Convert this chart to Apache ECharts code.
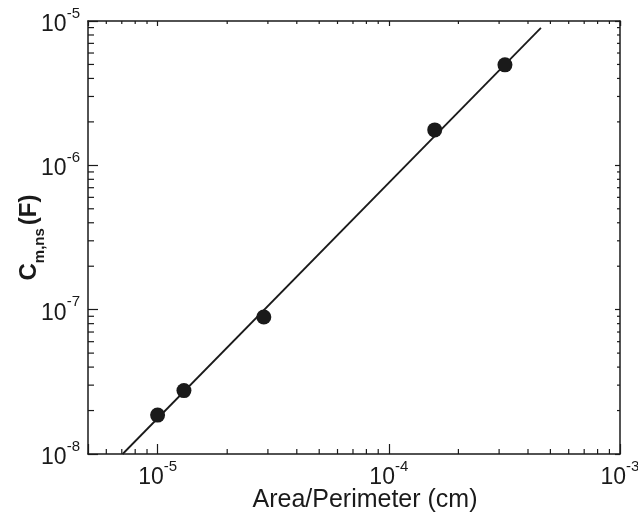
<!DOCTYPE html>
<html>
<head>
<meta charset="utf-8">
<script src="https://cdn.jsdelivr.net/npm/echarts@6/dist/echarts.min.js"></script>
<style>
  html, body { margin: 0; padding: 0; background: #fff; }
  #chart { width: 638px; height: 517px; }
</style>
</head>
<body>
<div id="chart"></div>
<script>
// Measured non-specific capacitance versus area/perimeter ratio
const areaPerimeter = [1.0e-5, 1.3e-5, 2.88e-5, 1.58e-4, 3.18e-4];
const capacitance   = [1.86e-8, 2.75e-8, 8.9e-8, 1.76e-6, 4.97e-6];

// Power-law fit drawn as a straight line in log-log space
const fitX = [7.06e-6, 4.55e-4];
const fitY = [1.0e-8, 8.95e-6];

// Axis ranges
const xRange = [5e-6, 1e-3];
const yRange = [1e-8, 1e-5];

// Minor tick values (2..9 within each decade)
const xMinorTicks = [6e-6, 7e-6, 8e-6, 9e-6,
  2e-5, 3e-5, 4e-5, 5e-5, 6e-5, 7e-5, 8e-5, 9e-5,
  2e-4, 3e-4, 4e-4, 5e-4, 6e-4, 7e-4, 8e-4, 9e-4];
const yMinorTicks = [2e-8, 3e-8, 4e-8, 5e-8, 6e-8, 7e-8, 8e-8, 9e-8,
  2e-7, 3e-7, 4e-7, 5e-7, 6e-7, 7e-7, 8e-7, 9e-7,
  2e-6, 3e-6, 4e-6, 5e-6, 6e-6, 7e-6, 8e-6, 9e-6];

const FONT = '"Liberation Sans", Arial, Helvetica, sans-serif';

function decadeLabel(v) {
  const lg = Math.log10(v);
  const e = Math.round(lg);
  if (Math.abs(lg - e) > 1e-6) return '';
  return '{b|10}{s|' + e + '}';
}

const labelRich = {
  b: { fontSize: 23, fontFamily: FONT, color: '#1a1a1a', lineHeight: 30, verticalAlign: 'bottom' },
  s: { fontSize: 15, fontFamily: FONT, color: '#1a1a1a', lineHeight: 30, verticalAlign: 'top' }
};

const chart = echarts.init(document.getElementById('chart'));

function tickLines(params, api) {
  const children = [];
  const lineStyle = { stroke: '#1a1a1a', lineWidth: 1.2 };
  xMinorTicks.forEach(function (v) {
    const b = api.coord([v, yRange[0]]);
    const t = api.coord([v, yRange[1]]);
    children.push({ type: 'line', shape: { x1: b[0], y1: b[1], x2: b[0], y2: b[1] - 5 }, style: lineStyle });
    children.push({ type: 'line', shape: { x1: t[0], y1: t[1], x2: t[0], y2: t[1] + 3 }, style: lineStyle });
  });
  yMinorTicks.forEach(function (v) {
    const l = api.coord([xRange[0], v]);
    const r = api.coord([xRange[1], v]);
    children.push({ type: 'line', shape: { x1: l[0], y1: l[1], x2: l[0] + 6, y2: l[1] }, style: lineStyle });
    children.push({ type: 'line', shape: { x1: r[0], y1: r[1], x2: r[0] - 3, y2: r[1] }, style: lineStyle });
  });
  return { type: 'group', children: children };
}

const axisLineStyle = { color: '#1a1a1a', width: 1.5 };

chart.setOption({
  animation: false,
  backgroundColor: '#ffffff',
  grid: { left: 88, right: 18, top: 21, bottom: 63, containLabel: false, outerBoundsMode: 'none' },
  xAxis: [
    {
      type: 'log', logBase: 10, min: xRange[0], max: xRange[1],
      position: 'bottom',
      name: 'Area/Perimeter (cm)',
      nameLocation: 'middle', nameGap: 34, nameMoveOverlap: false,
      nameTextStyle: { fontSize: 25, fontFamily: FONT, color: '#1a1a1a', padding: [0, 0, 0, 22] },
      axisLine: { show: true, onZero: false, lineStyle: axisLineStyle },
      axisTick: { show: true, inside: true, length: 10, lineStyle: { color: '#1a1a1a', width: 1.2 } },
      axisLabel: { margin: 5, formatter: decadeLabel, rich: labelRich, showMinLabel: true, showMaxLabel: true },
      splitLine: { show: false }
    },
    {
      type: 'log', logBase: 10, min: xRange[0], max: xRange[1],
      position: 'top',
      axisLine: { show: true, onZero: false, lineStyle: axisLineStyle },
      axisTick: { show: true, inside: true, length: 5, lineStyle: { color: '#1a1a1a', width: 1.2 } },
      axisLabel: { show: false },
      splitLine: { show: false }
    }
  ],
  yAxis: [
    {
      type: 'log', logBase: 10, min: yRange[0], max: yRange[1],
      position: 'left',
      name: '{c|C}{sub|m,ns}{p|(F)}',
      nameLocation: 'middle', nameGap: 41, nameRotate: 90, nameMoveOverlap: false,
      nameTextStyle: {
        rich: {
          c: { fontSize: 24, fontWeight: 'bold', fontFamily: FONT, color: '#1a1a1a', lineHeight: 30, verticalAlign: 'top' },
          sub: { fontSize: 15, fontWeight: 'bold', fontFamily: FONT, color: '#1a1a1a', lineHeight: 30, verticalAlign: 'bottom', padding: [0, 3, 0, 0] },
          p: { fontSize: 24, fontWeight: 'bold', fontFamily: FONT, color: '#1a1a1a', lineHeight: 30, verticalAlign: 'top' }
        }
      },
      axisLine: { show: true, onZero: false, lineStyle: axisLineStyle },
      axisTick: { show: true, inside: true, length: 10, lineStyle: { color: '#1a1a1a', width: 1.2 } },
      axisLabel: { margin: 8, formatter: decadeLabel, rich: labelRich },
      splitLine: { show: false }
    },
    {
      type: 'log', logBase: 10, min: yRange[0], max: yRange[1],
      position: 'right',
      axisLine: { show: true, onZero: false, lineStyle: axisLineStyle },
      axisTick: { show: true, inside: true, length: 5, lineStyle: { color: '#1a1a1a', width: 1.2 } },
      axisLabel: { show: false },
      splitLine: { show: false }
    }
  ],
  series: [
    {
      type: 'custom',
      name: 'minorTicks',
      xAxisIndex: 0, yAxisIndex: 0,
      renderItem: tickLines,
      data: [0],
      silent: true,
      z: 1
    },
    {
      type: 'line',
      name: 'fit',
      xAxisIndex: 0, yAxisIndex: 0,
      data: fitX.map(function (x, i) { return [x, fitY[i]]; }),
      symbol: 'none',
      lineStyle: { color: '#1a1a1a', width: 1.8 },
      z: 2
    },
    {
      type: 'scatter',
      name: 'measured',
      xAxisIndex: 0, yAxisIndex: 0,
      data: areaPerimeter.map(function (x, i) { return [x, capacitance[i]]; }),
      symbol: 'circle',
      symbolSize: 15,
      itemStyle: { color: '#1a1a1a', opacity: 1 },
      z: 3
    }
  ]
});
</script>
</body>
</html>
